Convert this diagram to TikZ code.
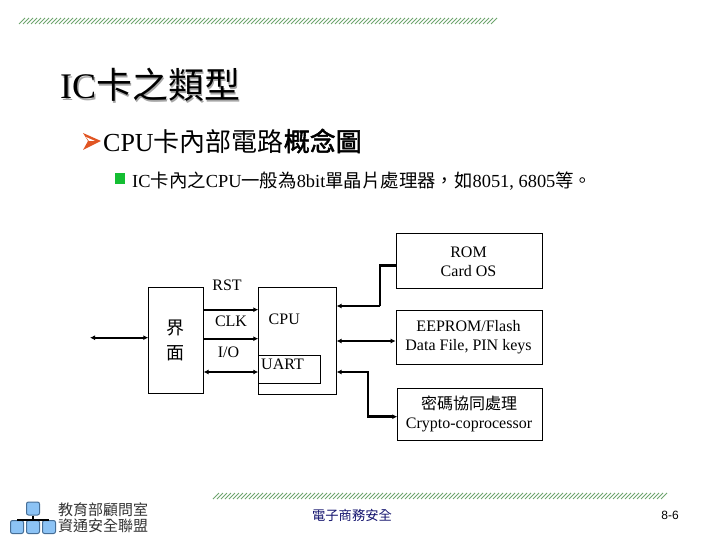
\documentclass[tikz,border=0pt]{standalone}
\usepackage{fontspec}
\setmainfont{Liberation Serif}
\newfontfamily\cjk{Noto Sans CJK TC}
\newfontfamily\cjkb{Noto Sans CJK TC}[FakeBold=2]
\newfontfamily\arialf{Liberation Sans}
\usetikzlibrary{arrows.meta}
\definecolor{hatchgreen}{RGB}{110,165,110}
\definecolor{logoblue}{RGB}{140,195,245}
\definecolor{logoedge}{RGB}{70,110,150}
\definecolor{bulletorange}{RGB}{225,85,35}
\definecolor{bulletgreen}{RGB}{20,190,50}
\definecolor{footblue}{RGB}{20,20,110}
\tikzset{
  x=1pt,y=-1pt,
  blockbox/.style={draw=black,line width=0.9pt,inner sep=0pt,anchor=north west},
  lbl/.style={inner sep=0pt,font=\fontsize{16}{19}\selectfont,align=center},
  wire/.style={draw=black,line width=1.6pt},
  thickwire/.style={draw=black,line width=2.5pt},
  tip/.style={-{Latex[length=5pt,width=5pt]}},
  bothtip/.style={{Latex[length=5pt,width=5pt]}-{Latex[length=5pt,width=5pt]}},
  hatchline/.style={draw=hatchgreen,line width=0.8pt},
  logobox/.style={draw=logoedge,fill=logoblue,rounded corners=2pt,line width=1pt,minimum size=13pt,inner sep=0pt}
}
\begin{document}
\begin{tikzpicture}
\useasboundingbox (0,0) rectangle (720,540);
% hatched rules
\foreach \i in {0,...,118} {\draw[hatchline] (19+4*\i,24) -- (25+4*\i,18);}
\foreach \i in {0,...,112} {\draw[hatchline] (213+4*\i,499) -- (219+4*\i,493);}
% title
\node[anchor=west,inner sep=0pt,text=black!35,font=\fontsize{36}{40}\selectfont] (titleshadow) at (61.5,86.5) {IC{\cjk 卡之類型}};
\node[anchor=west,inner sep=0pt,font=\fontsize{36}{40}\selectfont] (title) at (60,85) {IC{\cjk 卡之類型}};
% level-one bullet
\fill[bulletorange] (83,133) -- (101,141) -- (83,150) -- (88,141) -- cycle;
\fill[white] (86,137) -- (95,141) -- (89,141) -- cycle;
\node[anchor=west,inner sep=0pt,font=\fontsize{26}{30}\selectfont] (head) at (103,141) {CPU{\cjk 卡內部電路}{\cjkb 概念圖}};
% level-two bullet
\fill[bulletgreen] (115,173) rectangle (125,184);
\node[anchor=west,inner sep=0pt,font=\fontsize{18.4}{22}\selectfont] (sub) at (132,181) {IC{\cjk 卡內之}CPU{\cjk 一般為}8bit{\cjk 單晶片處理器，如}8051, 6805{\cjk 等。}};
% boxes
\node[blockbox,minimum width=54.4pt,minimum height=106pt] (iface) at (148.3,287.3) {};
\node[lbl,font=\fontsize{18}{25}\selectfont\cjk] (ifacetxt) at (175.5,340) {界\\面};
\node[blockbox,minimum width=77.4pt,minimum height=106.7pt] (cpu) at (258.3,287.3) {};
\node[lbl,anchor=west] (cputxt) at (268.5,319.5) {CPU};
\node[blockbox,minimum width=61.4pt,minimum height=28pt] (uart) at (258.3,355.3) {};
\node[lbl,anchor=west] (uarttxt) at (261,364.5) {UART};
\node[blockbox,minimum width=146pt,minimum height=55pt,align=center] (rom) at (395.7,233.3) {};
\node[lbl] (romtxt) at (468.5,261.5) {ROM\\Card OS};
\node[blockbox,minimum width=146pt,minimum height=53.7pt] (eeprom) at (395.7,310.3) {};
\node[lbl] (eepromtxt) at (468.5,337.5) {EEPROM/Flash\\Data File, PIN keys};
\node[blockbox,minimum width=144.4pt,minimum height=52.3pt] (crypto) at (397.3,387.7) {};
\node[lbl] (cryptotxt) at (469,414) {{\cjk 密碼協同處理}\\Crypto-coprocessor};
% signal labels
\node[lbl] (rst) at (227,285.5) {RST};
\node[lbl] (clk) at (231,321.5) {CLK};
\node[lbl] (io) at (228.5,352) {I/O};
% connectors
\coordinate (ext) at (90,337.7);
\draw[wire,bothtip] (ext) -- (iface.west |- ext);
\coordinate (rsty) at (0,309.7);
\draw[wire,line width=2pt,tip] (iface.east |- rsty) -- (cpu.west |- rsty);
\coordinate (clky) at (0,338.7);
\draw[wire,tip] (iface.east |- clky) -- (cpu.west |- clky);
\coordinate (ioy) at (0,372);
\draw[wire,bothtip] (iface.east |- ioy) -- (cpu.west |- ioy);
\coordinate (romy) at (0,265.7);
\coordinate (cpuromy) at (0,306);
\coordinate (romx) at (380,0);
\draw[thickwire] (rom.west |- romy) -- (romx |- romy) -- (romx |- cpuromy);
\draw[wire,line width=1.2pt,tip] (romx |- cpuromy) -- (cpu.east |- cpuromy);
\coordinate (eey) at (0,341);
\draw[wire,bothtip] (cpu.east |- eey) -- (eeprom.west |- eey);
\coordinate (cry) at (0,372);
\coordinate (cryb) at (0,416.7);
\coordinate (crx) at (368,0);
\draw[thickwire,{Latex[length=5pt,width=5pt]}-{Latex[length=5pt,width=5pt]}] (cpu.east |- cry) -- (crx |- cry) -- (crx |- cryb) -- (crypto.west |- cryb);
% logo
\node[logobox] (l0) at (33,508.5) {};
\node[logobox] (l1) at (17,527) {};
\node[logobox] (l2) at (33,527) {};
\node[logobox] (l3) at (49,527) {};
\draw[black,line width=1.2pt] (l0.south) -- (l2.north);
\draw[black,line width=1.6pt] (l1.north) -- (l3.north);
\node[anchor=west,inner sep=0pt,font=\fontsize{15}{16}\selectfont\cjk,text=black!80] (logo1) at (58,510) {教育部顧問室};
\node[anchor=west,inner sep=0pt,font=\fontsize{15}{16}\selectfont\cjk,text=black!80] (logo2) at (58,526) {資通安全聯盟};
% footer
\node[inner sep=0pt,font=\fontsize{13.3}{15}\selectfont\cjk,text=footblue] (foot) at (352,515) {電子商務安全};
\node[inner sep=0pt,font=\fontsize{12}{14}\selectfont\arialf] (page) at (670,515) {8-6};
\end{tikzpicture}
\end{document}
